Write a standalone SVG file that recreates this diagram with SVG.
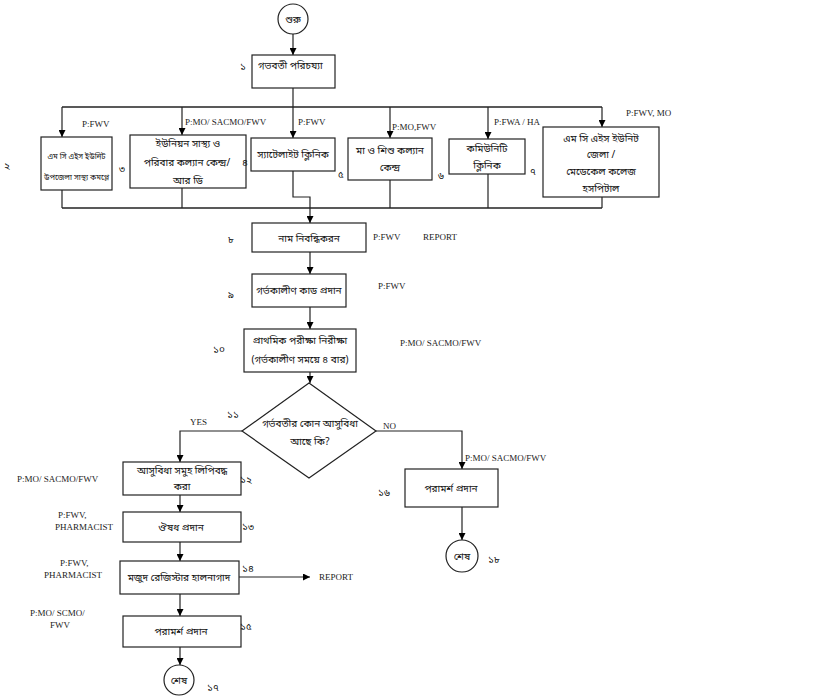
<svg xmlns="http://www.w3.org/2000/svg" width="819" height="698" viewBox="0 0 819 698">
<defs>
<marker id="ah" viewBox="0 0 10 10" refX="10" refY="5" markerWidth="7" markerHeight="7" markerUnits="userSpaceOnUse" orient="auto">
<path d="M0,0 L10,5 L0,10 z" fill="#000"/>
</marker>
<style>
.box{fill:#fff;stroke:#222;stroke-width:1.2}
.bn{font-family:"Noto Sans Bengali","Noto Serif Bengali","Lohit Bengali","Noto Sans",sans-serif;font-size:10px;fill:#111}
.sm{font-size:7.7px}
.num{font-family:"Noto Sans Bengali","Noto Serif Bengali","Lohit Bengali","Noto Sans",sans-serif;font-size:10px;fill:#111}
.lt{font-family:"Liberation Serif","Times New Roman",serif;font-size:9px;fill:#222}
.ln{fill:none;stroke:#222;stroke-width:1.2}
.ar{fill:none;stroke:#222;stroke-width:1.2;marker-end:url(#ah)}
</style>
</defs>
<rect width="819" height="698" fill="#fff"/>

<g id="connectors">
<line class="ar" x1="293" y1="34" x2="293" y2="55"/>
<line class="ar" x1="293" y1="88" x2="293" y2="138"/>
<line class="ln" x1="62" y1="107" x2="602" y2="107" style="stroke-width:1.6"/>
<line class="ar" x1="62" y1="107" x2="62" y2="137"/>
<line class="ar" x1="182" y1="107" x2="182" y2="135"/>
<line class="ar" x1="390" y1="107" x2="390" y2="138"/>
<line class="ar" x1="488" y1="107" x2="488" y2="139"/>
<line class="ar" x1="602" y1="107" x2="602" y2="127"/>
<line class="ln" x1="62" y1="190" x2="62" y2="208"/>
<line class="ln" x1="182" y1="188" x2="182" y2="208"/>
<polyline class="ln" points="293,171 293,197 310,197 310,208"/>
<line class="ln" x1="390" y1="180" x2="390" y2="208"/>
<line class="ln" x1="488" y1="174" x2="488" y2="208"/>
<line class="ln" x1="602" y1="197" x2="602" y2="208"/>
<line class="ln" x1="62" y1="208" x2="602" y2="208" style="stroke-width:1.6"/>
<line class="ar" x1="310" y1="208" x2="310" y2="223"/>
<line class="ar" x1="310" y1="252" x2="310" y2="274"/>
<line class="ar" x1="310" y1="307" x2="310" y2="329"/>
<line class="ar" x1="310" y1="372" x2="310" y2="383"/>
<polyline class="ar" points="242,431 180,431 180,462"/>
<line class="ar" x1="180" y1="495" x2="180" y2="512"/>
<line class="ar" x1="180" y1="542" x2="180" y2="561"/>
<line class="ar" x1="239" y1="577" x2="310" y2="577"/>
<line class="ar" x1="180" y1="594" x2="180" y2="616"/>
<line class="ar" x1="180" y1="647" x2="180" y2="665"/>
<polyline class="ar" points="376,431 462,431 462,469"/>
<line class="ar" x1="462" y1="507" x2="462" y2="540"/>
</g>

<g id="start">
<circle cx="293" cy="19" r="15" fill="#fff" stroke="#222" stroke-width="1.2"/>
<text class="bn" x="293" y="23" text-anchor="middle">শুরু</text>
</g>

<g id="n1">
<rect class="box" x="252" y="55" width="83" height="33"/>
<text class="bn" x="258" y="69">গভবতী পরিচয্যা</text>
<text class="num" x="240" y="70">১</text>
</g>

<g id="n2">
<rect class="box" x="41" y="137" width="71" height="53"/>
<text class="bn sm" x="76.5" y="159" text-anchor="middle">এম সি এইস ইউনিট</text>
<text class="bn sm" x="76.5" y="180" text-anchor="middle">উপজেলা সাস্থ্য কমপ্লে</text>
<text class="num" x="4" y="169">২</text>
<text class="lt" x="82" y="127">P:FWV</text>
</g>

<g id="n3">
<rect class="box" x="130" y="135" width="116" height="53"/>
<text class="bn" x="188" y="147" text-anchor="middle">ইউনিয়ন  সাস্থ্য ও</text>
<text class="bn" x="187" y="166" text-anchor="middle">পরিবার কল্যান কেন্দ্র/</text>
<text class="bn" x="188" y="184" text-anchor="middle">আর ডি</text>
<text class="num" x="119" y="172">৩</text>
<text class="lt" x="185" y="125">P:MO/ SACMO/FWV</text>
</g>

<g id="n4">
<rect class="box" x="251" y="138" width="84" height="33"/>
<text class="bn" x="293" y="158" text-anchor="middle">স্যাটেলাইট ক্লিনিক</text>
<text class="num" x="242" y="166">৪</text>
<text class="lt" x="298" y="125">P:FWV</text>
</g>

<g id="n5">
<rect class="box" x="348" y="138" width="84" height="42"/>
<text class="bn" x="390" y="154" text-anchor="middle">মা ও শিশু কল্যান</text>
<text class="bn" x="390" y="171" text-anchor="middle">কেন্দ্র</text>
<text class="num" x="338" y="178">৫</text>
<text class="lt" x="392" y="130">P:MO,FWV</text>
</g>

<g id="n6">
<rect class="box" x="449" y="139" width="76" height="35"/>
<text class="bn" x="487" y="152" text-anchor="middle">কমিউনিটি</text>
<text class="bn" x="487" y="169" text-anchor="middle">ক্লিনিক</text>
<text class="num" x="438" y="179">৬</text>
<text class="lt" x="494" y="125">P:FWA / HA</text>
</g>

<g id="n7">
<rect class="box" x="543" y="127" width="116" height="70"/>
<text class="bn" x="601" y="142" text-anchor="middle">এম সি এইস ইউনিট</text>
<text class="bn" x="601" y="158" text-anchor="middle">জেলা /</text>
<text class="bn" x="601" y="175" text-anchor="middle">মেডেকেল কলেজ</text>
<text class="bn" x="601" y="192" text-anchor="middle">হসপিটাল</text>
<text class="num" x="530" y="175">৭</text>
<text class="lt" x="626" y="116">P:FWV, MO</text>
</g>

<g id="n8">
<rect class="box" x="252" y="223" width="114" height="29"/>
<text class="bn" x="309" y="242" text-anchor="middle">নাম নিবন্ধিকরন</text>
<text class="num" x="228" y="243">৮</text>
<text class="lt" x="373" y="240">P:FWV</text>
<text class="lt" x="423" y="240">REPORT</text>
</g>

<g id="n9">
<rect class="box" x="252" y="274" width="94" height="33"/>
<text class="bn" x="299" y="294" text-anchor="middle">গর্ভকালীণ কাড প্রদান</text>
<text class="num" x="228" y="298">৯</text>
<text class="lt" x="378" y="289">P:FWV</text>
</g>

<g id="n10">
<rect class="box" x="244" y="329" width="112" height="43"/>
<text class="bn" x="300" y="344" text-anchor="middle">প্রাথমিক পরীক্ষা নিরীক্ষা</text>
<text class="bn" x="300" y="363" text-anchor="middle">(গর্ভকালীণ সময়ে ৪ বার)</text>
<text class="num" x="213" y="353">১০</text>
<text class="lt" x="400" y="346">P:MO/ SACMO/FWV</text>
</g>

<g id="n11">
<polygon points="309,383 376,431 309,478 242,431" fill="#fff" stroke="#222" stroke-width="1.2"/>
<text class="bn" x="310" y="427" text-anchor="middle">গর্ভবতীর কোন আসুবিধা</text>
<text class="bn" x="310" y="445" text-anchor="middle">আছে কি?</text>
<text class="num" x="227" y="418">১১</text>
<text class="lt" x="190" y="425">YES</text>
<text class="lt" x="383" y="429">NO</text>
</g>

<g id="n12">
<rect class="box" x="123" y="462" width="118" height="33"/>
<text class="bn" x="182" y="474" text-anchor="middle">আসুবিধা সমুহ লিপিবদ্ধ</text>
<text class="bn" x="182" y="490" text-anchor="middle">করা</text>
<text class="num" x="240" y="483">১২</text>
<text class="lt" x="17" y="482">P:MO/ SACMO/FWV</text>
</g>

<g id="n13">
<rect class="box" x="123" y="512" width="118" height="30"/>
<text class="bn" x="181" y="531" text-anchor="middle">ঔষধ প্রদান</text>
<text class="num" x="242" y="530">১৩</text>
<text class="lt" x="58" y="518">P:FWV,</text>
<text class="lt" x="55" y="530">PHARMACIST</text>
</g>

<g id="n14">
<rect class="box" x="120" y="561" width="119" height="33"/>
<text class="bn" x="179" y="581" text-anchor="middle">মজুদ রেজিস্টার হালনাগাদ</text>
<text class="num" x="242" y="572">১৪</text>
<text class="lt" x="60" y="566">P:FWV,</text>
<text class="lt" x="44" y="578">PHARMACIST</text>
<text class="lt" x="319" y="580">REPORT</text>
</g>

<g id="n15">
<rect class="box" x="123" y="616" width="118" height="31"/>
<text class="bn" x="181" y="635" text-anchor="middle">পরামর্শ প্রদান</text>
<text class="num" x="240" y="630">১৫</text>
<text class="lt" x="30" y="616">P:MO/ SCMO/</text>
<text class="lt" x="50" y="628">FWV</text>
</g>

<g id="n17">
<circle cx="179" cy="680" r="15" fill="#fff" stroke="#222" stroke-width="1.2"/>
<text class="bn" x="179" y="684" text-anchor="middle">শেষ</text>
<text class="num" x="207" y="691">১৭</text>
</g>

<g id="n16">
<rect class="box" x="405" y="469" width="93" height="38"/>
<text class="bn" x="451" y="492" text-anchor="middle">পরামর্শ প্রদান</text>
<text class="num" x="378" y="496">১৬</text>
<text class="lt" x="465" y="461">P:MO/ SACMO/FWV</text>
</g>

<g id="n18">
<circle cx="462" cy="556" r="16" fill="#fff" stroke="#222" stroke-width="1.2"/>
<text class="bn" x="462" y="560" text-anchor="middle">শেষ</text>
<text class="num" x="488" y="563">১৮</text>
</g>
</svg>
